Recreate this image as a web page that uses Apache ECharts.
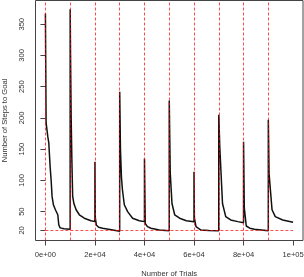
<!DOCTYPE html>
<html><head><meta charset="utf-8">
<script src="https://cdn.jsdelivr.net/npm/echarts@6/dist/echarts.min.js"></script>
<style>html,body{margin:0;padding:0;background:#fff}#c{width:304px;height:277px}</style>
</head><body><div id="c"></div>
<script>
const segmentStarts = [0,10000,20000,30000,40000,50000,60000,70000,80000,90000];
const xTickValues = [0,20000,40000,60000,80000,100000];
const xTickLabels = ['0e+00','2e+04','4e+04','6e+04','8e+04','1e+05'];
const yTickValues = [20,50,100,150,200,250,300,350];
const goalSteps = 20;
const goalLineEnd = 100000;

const seg0Trials = [0,280,970,1370,1500,1900,2300,2700,3230,4030,4600,5000,5400,5930,7500,9990];
const seg0Steps  = [367,192,170,160,163,122,101,74,61,53,50,45,29,24,22.5,22];
const seg1Trials = [10000,10150,10400,10700,11000,11500,12400,13700,15700,18400,19990];
const seg1Steps  = [374,300,200,130,75,63,53,45,39.5,35.5,34];
const seg2Trials = [20000,20150,20560,21500,23100,27200,29990];
const seg2Steps  = [130,40,28.7,25,23.4,20.6,18.6];
const seg3Trials = [30000,30300,30700,31100,31850,33200,35200,37900,39990];
const seg3Steps  = [242,150,105,85,61,50,39.5,35.5,34];
const seg4Trials = [40000,40300,41200,42600,46000,49990];
const seg4Steps  = [135,31,26,23.4,20.6,19.5];
const seg5Trials = [50000,50400,51100,52200,54200,56900,59990];
const seg5Steps  = [228,112,63,45,39.5,35.5,34];
const seg6Trials = [60000,60150,60800,62800,66000,69990];
const seg6Steps  = [114,40,26,20.6,20,19.5];
const seg7Trials = [70000,70400,71500,72800,74800,77700,79990];
const seg7Steps  = [205,154,63,42,36.7,34,32.3];
const seg8Trials = [80000,80300,81100,82500,84400,89990];
const seg8Steps  = [162,56,27,23.5,21.8,19.5];
const seg9Trials = [90000,90300,91500,92800,95800,99990];
const seg9Steps  = [197,111,53,42,36.7,33];

const allTrials = [seg0Trials,seg1Trials,seg2Trials,seg3Trials,seg4Trials,seg5Trials,seg6Trials,seg7Trials,seg8Trials,seg9Trials];
const allSteps = [seg0Steps,seg1Steps,seg2Steps,seg3Steps,seg4Steps,seg5Steps,seg6Steps,seg7Steps,seg8Steps,seg9Steps];
const lineData = [];
allTrials.forEach((tr, i) => tr.forEach((t, j) => lineData.push([t, allSteps[i][j]])));

const font = 'Liberation Sans, Arial, Helvetica, sans-serif';
const txt = '#333';
const red = 'rgba(255,0,0,0.7)';
const redStyle = {color: red, type: [3, 2], width: 1, opacity: 1};

const markData = segmentStarts.map(s => ({xAxis: s, lineStyle: redStyle}));
markData.push([{coord: [0, goalSteps], lineStyle: redStyle}, {coord: [goalLineEnd, goalSteps]}]);

const chart = echarts.init(document.getElementById('c'), null, {renderer: 'canvas'});
chart.setOption({
  animation: false,
  backgroundColor: '#fff',
  grid: {left: 35.5, right: 1, top: 0.5, bottom: 36.5, outerBoundsMode: 'none', containLabel: false,
    show: true, borderColor: '#444', borderWidth: 1, backgroundColor: 'transparent'},
  xAxis: {
    type: 'value', min: -4000, max: 104000,
    name: 'Number of Trials', nameLocation: 'middle', nameGap: 29,
    nameTextStyle: {fontFamily: font, fontSize: 7.6, color: txt},
    axisLine: {show: false},
    splitLine: {show: false},
    axisTick: {show: true, length: 5, customValues: xTickValues, lineStyle: {color: '#444'}},
    axisLabel: {customValues: xTickValues, margin: 10, fontFamily: font, fontSize: 7.6, color: txt,
      formatter: v => xTickLabels[xTickValues.indexOf(v)]}
  },
  yAxis: {
    type: 'value', min: 3.8, max: 388,
    name: 'Number of Steps to Goal', nameLocation: 'middle', nameGap: 27,
    nameTextStyle: {fontFamily: font, fontSize: 7.6, color: txt},
    axisLine: {show: false},
    splitLine: {show: false},
    axisTick: {show: true, length: 5, customValues: yTickValues, lineStyle: {color: '#444'}},
    axisLabel: {customValues: yTickValues, rotate: 90, margin: 10, fontFamily: font, fontSize: 7.6, color: txt}
  },
  series: [
    {
      type: 'line', data: lineData, showSymbol: false, symbol: 'none',
      lineStyle: {color: '#111', width: 1.5}, z: 3,
    },
    {
      type: 'line', data: [], z: 4, silent: true, color: red,
      markLine: {
        silent: true, symbol: 'none', label: {show: false}, animation: false,
        lineStyle: redStyle,
        emphasis: {disabled: true},
        data: markData
      }
    }
  ]
});
</script></body></html>
